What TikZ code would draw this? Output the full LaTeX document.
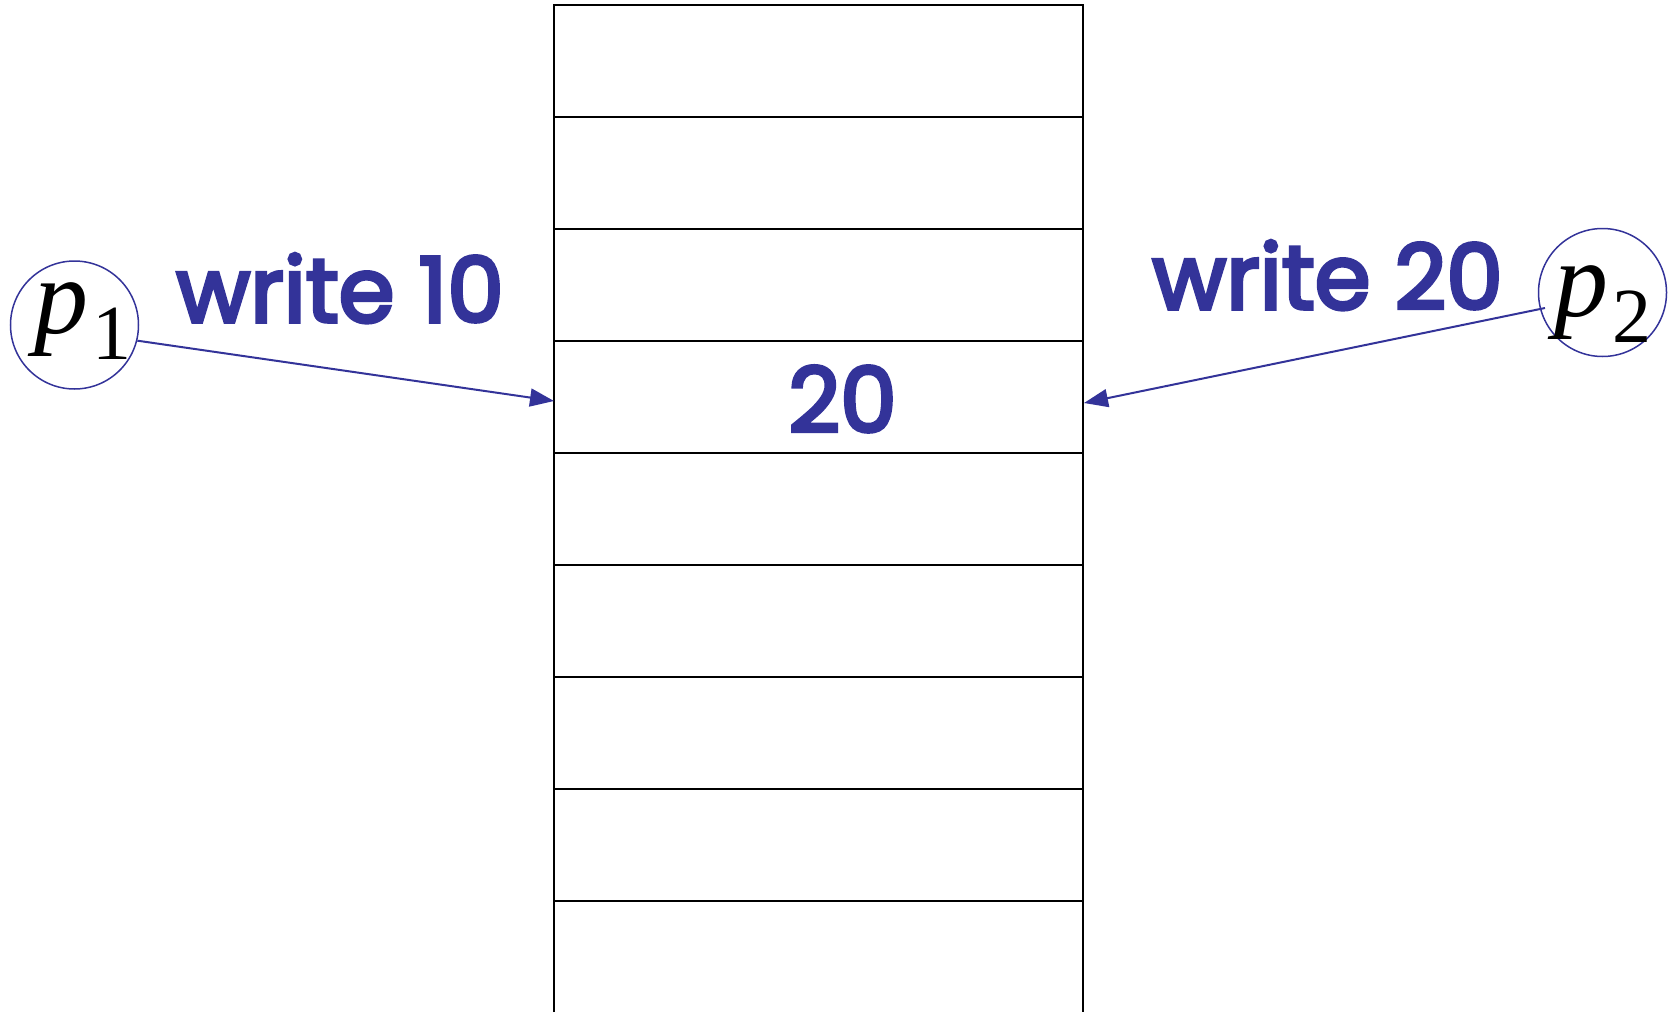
\documentclass[tikz,border=0pt]{standalone}
\usepackage{fontspec}
\setmainfont{Liberation Serif}
\newfontfamily\handfont{Poppins}[FakeBold=4]
\usetikzlibrary{arrows.meta}
\definecolor{ink}{HTML}{333399}
\begin{document}
\begin{tikzpicture}[x=0.5pt,y=-0.5pt,
  grid/.style={line width=1pt,black},
  proc/.style={circle,draw=ink,line width=0.75pt,minimum size=64pt,inner sep=0pt,text=black},
  plabel/.style={anchor=base west,inner sep=0pt,font=\fontsize{54}{54}\selectfont},
  lbl/.style={text=ink,font=\handfont\fontsize{45}{45}\selectfont,inner sep=0pt},
  conn/.style={draw=ink,line width=1pt,-{Triangle[length=12pt,width=9pt]}}]
\useasboundingbox (0,0) rectangle (1670,1012);
% memory table
\draw[grid] (554,1012) -- (554,5) -- (1083,5) -- (1083,1012);
\foreach \yy in {117,229,341,453,565,677,789,901}
  \draw[grid] (554,\yy) -- (1083,\yy);
\node[lbl,anchor=base west] (v) at (788,432) {20};
% processes
\node[proc] (p1) at (74.5,325) {};
\node[plabel] (p1t) at (34,333) {\textit{p}\kern2pt\raisebox{-13pt}{\fontsize{39}{39}\selectfont 1}};
\node[proc] (p2) at (1602.5,292.5) {};
\node[plabel] (p2t) at (1554,316) {\textit{p}\kern2pt\raisebox{-13pt}{\fontsize{39}{39}\selectfont 2}};
% labels
\node[lbl,anchor=base west] (w1) at (176,322) {write 10};
\node[lbl,anchor=base west] (w2) at (1152,309) {write 20};
% arrows
\coordinate (t1) at (554,401);
\coordinate (t2) at (1084,403);
\coordinate (s2) at (1545,308);
\draw[conn] (p1.-14) -- (t1);
\draw[conn] (s2) -- (t2);
\end{tikzpicture}
\end{document}
